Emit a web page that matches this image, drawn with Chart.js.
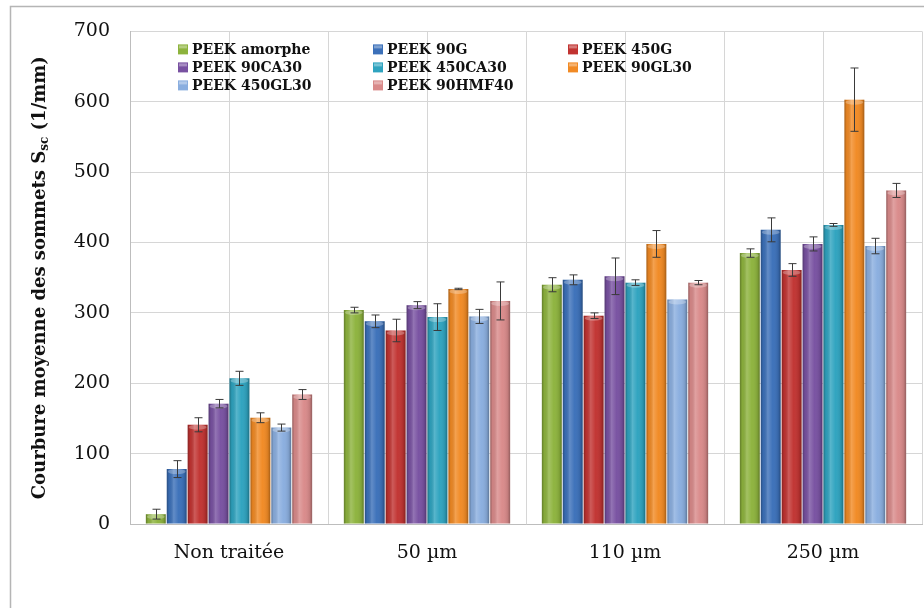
<!DOCTYPE html>
<html>
<head>
<meta charset="utf-8">
<script src="https://cdn.jsdelivr.net/npm/chart.js"></script>
<style>
  html, body { margin: 0; padding: 0; background: #fff; }
</style>
</head>
<body>
<canvas id="myChart" width="924" height="608"></canvas>
<script>
// categories (surface treatment)
const categories = ['Non traitée', '50 µm', '110 µm', '250 µm'];
const yTicks = [0, 100, 200, 300, 400, 500, 600, 700];

// mean values per series
const peekAmorphe = [14, 304, 340, 385];
const peek90G     = [78, 288, 347, 418];
const peek450G    = [141, 275, 296, 361];
const peek90CA30  = [171, 311, 352, 398];
const peek450CA30 = [207, 294, 343, 425];
const peek90GL30  = [151, 334, 398, 603];
const peek450GL30 = [137, 295, 319, 395];
const peek90HMF40 = [184, 317, 343, 474];

// error bar half-heights
const errAmorphe = [7, 4, 10, 6];
const err90G     = [12, 9, 7, 17];
const err450G    = [10, 16, 4, 9];
const err90CA30  = [6, 5, 26, 10];
const err450CA30 = [10, 19, 4, 2];
const err90GL30  = [7, 1, 19, 45];
const err450GL30 = [5, 10, 0, 11];
const err90HMF40 = [7, 27, 3, 10];

const seriesNames = ['PEEK amorphe', 'PEEK 90G', 'PEEK 450G', 'PEEK 90CA30',
                     'PEEK 450CA30', 'PEEK 90GL30', 'PEEK 450GL30', 'PEEK 90HMF40'];
const seriesValues = [peekAmorphe, peek90G, peek450G, peek90CA30,
                      peek450CA30, peek90GL30, peek450GL30, peek90HMF40];
const seriesErrors = [errAmorphe, err90G, err450G, err90CA30,
                      err450CA30, err90GL30, err450GL30, err90HMF40];
const colors = ['#8db33d', '#3b70b9', '#c13331', '#7851a1',
                '#2ea3bf', '#f18a24', '#8aaedf', '#d98a8a'];

const datasets = seriesNames.map((name, i) => ({
  label: name,
  data: seriesValues[i],
  errors: seriesErrors[i],
  backgroundColor: colors[i],
  borderWidth: 0,
  barPercentage: 0.95,
  categoryPercentage: 0.845
}));

// white background + outer frame
const framePlugin = {
  id: 'frame',
  beforeDraw(chart) {
    const c = chart.ctx;
    c.save();
    c.fillStyle = '#fff';
    c.fillRect(0, 0, chart.width, chart.height);
    c.strokeStyle = '#b5b5b5';
    c.lineWidth = 1.5;
    c.beginPath();
    c.moveTo(10.5, chart.height);
    c.lineTo(10.5, 6.5);
    c.lineTo(chart.width, 6.5);
    c.stroke();
    c.restore();
  }
};

// extra vertical grid lines through category centres
const centerGrid = {
  id: 'centerGrid',
  beforeDatasetsDraw(chart) {
    const c = chart.ctx, xs = chart.scales.x, a = chart.chartArea;
    c.save();
    c.strokeStyle = '#d6d6d6';
    c.lineWidth = 1;
    categories.forEach((_, i) => {
      const px = Math.round(xs.getPixelForValue(i)) + 0.5;
      c.beginPath();
      c.moveTo(px, a.top);
      c.lineTo(px, a.bottom);
      c.stroke();
    });
    c.restore();
  }
};

// cylinder-like shading and error bars
const barDeco = {
  id: 'barDeco',
  afterDatasetsDraw(chart) {
    const c = chart.ctx, ys = chart.scales.y;
    c.save();
    chart.data.datasets.forEach((ds, di) => {
      const meta = chart.getDatasetMeta(di);
      meta.data.forEach((el, i) => {
        const p = el.getProps(['x', 'y', 'width', 'base'], true);
        const l = p.x - p.width / 2;
        const g = c.createLinearGradient(l, 0, l + p.width, 0);
        g.addColorStop(0, 'rgba(0,0,0,0.30)');
        g.addColorStop(0.12, 'rgba(0,0,0,0.05)');
        g.addColorStop(0.35, 'rgba(255,255,255,0.20)');
        g.addColorStop(0.6, 'rgba(255,255,255,0.02)');
        g.addColorStop(0.88, 'rgba(0,0,0,0.10)');
        g.addColorStop(1, 'rgba(0,0,0,0.32)');
        c.fillStyle = g;
        c.fillRect(l, p.y, p.width, p.base - p.y);
        c.fillStyle = 'rgba(255,255,255,0.28)';
        c.beginPath();
        c.ellipse(p.x, p.y + 2.5, p.width / 2 - 1, 2.5, 0, 0, Math.PI * 2);
        c.fill();
      });
    });
    c.strokeStyle = '#3a3a3a';
    c.lineWidth = 1;
    chart.data.datasets.forEach((ds, di) => {
      const meta = chart.getDatasetMeta(di);
      meta.data.forEach((el, i) => {
        const e = ds.errors[i];
        if (!e) return;
        const x = Math.round(el.x) + 0.5;
        const top = ys.getPixelForValue(ds.data[i] + e);
        const bot = ys.getPixelForValue(ds.data[i] - e);
        c.beginPath();
        c.moveTo(x, top); c.lineTo(x, bot);
        c.moveTo(x - 4, top); c.lineTo(x + 4, top);
        c.moveTo(x - 4, bot); c.lineTo(x + 4, bot);
        c.stroke();
      });
    });
    c.restore();
  }
};

// legend in three columns inside the plot
const legendBox = {
  id: 'legendBox',
  afterDraw(chart) {
    const c = chart.ctx, a = chart.chartArea;
    c.save();
    c.font = 'bold 14px "DejaVu Serif"';
    c.textBaseline = 'middle';
    c.fillStyle = '#111';
    chart.data.datasets.forEach((ds, i) => {
      const col = i % 3, row = Math.floor(i / 3);
      const x = a.left + 48 + col * 195;
      const y = a.top + 18 + row * 18;
      c.fillStyle = ds.backgroundColor;
      c.fillRect(x, y - 5, 10, 10);
      c.fillStyle = 'rgba(255,255,255,0.35)';
      c.fillRect(x + 1, y - 4, 8, 3);
      c.fillStyle = '#111';
      c.fillText(ds.label, x + 14, y + 1);
    });
    c.restore();
  }
};

// rotated y title with subscript
const yTitle = {
  id: 'yTitle',
  afterDraw(chart) {
    const c = chart.ctx, a = chart.chartArea;
    const big = 'bold 18px "DejaVu Serif"', small = 'bold 12px "DejaVu Serif"';
    const p1 = 'Courbure moyenne des sommets S', sub = 'sc', p2 = ' (1/mm)';
    c.save();
    c.font = big; const w1 = c.measureText(p1).width, w3 = c.measureText(p2).width;
    c.font = small; const w2 = c.measureText(sub).width;
    const total = w1 + w2 + w3;
    c.translate(40, (a.top + a.bottom) / 2);
    c.rotate(-Math.PI / 2);
    c.fillStyle = '#111';
    c.textBaseline = 'middle';
    let x = -total / 2;
    c.font = big; c.fillText(p1, x, 0); x += w1;
    c.font = small; c.fillText(sub, x, 5); x += w2;
    c.font = big; c.fillText(p2, x, 0);
    c.restore();
  }
};

new Chart(document.getElementById('myChart'), {
  type: 'bar',
  data: { labels: categories, datasets: datasets },
  options: {
    responsive: false,
    animation: false,
    devicePixelRatio: 1,
    layout: { padding: { top: 30, right: 2, left: 0, bottom: 0 } },
    plugins: {
      legend: { display: false },
      tooltip: { enabled: false }
    },
    scales: {
      x: {
        offset: true,
        grid: { offset: true, color: '#d6d6d6', drawTicks: false },
        border: { color: '#bdbdbd' },
        ticks: { color: '#111', padding: 18, font: { family: 'DejaVu Serif', size: 19 } },
        afterFit(s) { s.height = 84; }
      },
      y: {
        min: 0,
        max: 700,
        afterBuildTicks(s) { s.ticks = yTicks.map(v => ({ value: v })); },
        grid: { color: '#d6d6d6', drawTicks: false },
        border: { color: '#bdbdbd' },
        ticks: { color: '#111', padding: 20, font: { family: 'DejaVu Serif', size: 19 } },
        afterFit(s) { s.width = 130; }
      }
    }
  },
  plugins: [framePlugin, centerGrid, barDeco, legendBox, yTitle]
});
</script>
</body>
</html>
